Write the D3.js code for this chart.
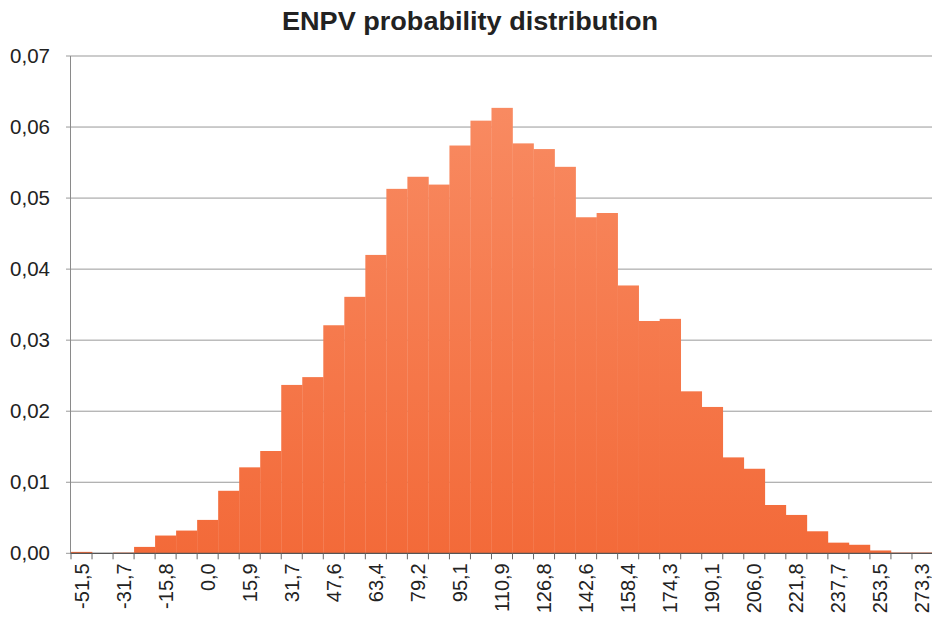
<!DOCTYPE html>
<html>
<head>
<meta charset="utf-8">
<script src="https://cdn.jsdelivr.net/npm/d3@7"></script>
<style>
  html, body { margin: 0; padding: 0; background: #fff; }
  svg { display: block; }
  text { font-family: "Liberation Sans", Arial, sans-serif; }
</style>
</head>
<body>
<script>
// ---- data ----
const title = "ENPV probability  distribution";
const values = [
  0.0002, 0.0000, 0.0001, 0.0009, 0.0025, 0.0032, 0.0047, 0.0088, 0.0121, 0.0144,
  0.0237, 0.0248, 0.0321, 0.0361, 0.0420, 0.0513, 0.0530, 0.0519, 0.0574, 0.0609,
  0.0627, 0.0577, 0.0569, 0.0544, 0.0473, 0.0479, 0.0377, 0.0327, 0.0330, 0.0228,
  0.0206, 0.0135, 0.0119, 0.0068, 0.0054, 0.0031, 0.0015, 0.0012, 0.0004, 0.0001,
  0.0001
];
const tickLabels = ["-51,5", "-31,7", "-15,8", "0,0", "15,9", "31,7", "47,6", "63,4", "79,2", "95,1",
  "110,9", "126,8", "142,6", "158,4", "174,3", "190,1", "206,0", "221,8", "237,7", "253,5", "273,3"];
const yTicks = [0, 0.01, 0.02, 0.03, 0.04, 0.05, 0.06, 0.07];

// ---- layout ----
const W = 932, H = 622;
const mLeft = 71, mRight = 933, mTop = 56, mBottom = 553.3;

const svg = d3.select("body").append("svg").attr("width", W).attr("height", H);

const defs = svg.append("defs");
const grad = defs.append("linearGradient").attr("id", "barGrad")
  .attr("gradientUnits", "userSpaceOnUse")
  .attr("x1", 0).attr("y1", mTop).attr("x2", 0).attr("y2", mBottom);
grad.append("stop").attr("offset", "0%").attr("stop-color", "#F98E66");
grad.append("stop").attr("offset", "100%").attr("stop-color", "#F36A39");

const x = d3.scaleBand().domain(d3.range(values.length)).range([mLeft, mRight]).padding(0);
const y = d3.scaleLinear().domain([0, 0.07]).range([mBottom, mTop]);

// gridlines
svg.append("g").selectAll("line").data(yTicks).join("line")
  .attr("x1", mLeft - 5).attr("x2", W)
  .attr("y1", d => y(d)).attr("y2", d => y(d))
  .attr("stroke", "#999").attr("stroke-width", 1);

// y labels
svg.append("g").selectAll("text").data(yTicks).join("text")
  .attr("x", 50).attr("y", d => y(d))
  .attr("dy", "0.35em")
  .attr("text-anchor", "end")
  .attr("font-size", 20.5)
  .attr("fill", "#222")
  .text(d => d3.format(".2f")(d).replace(".", ","));

// bars
svg.append("g").selectAll("rect").data(values).join("rect")
  .attr("x", (d, i) => x(i))
  .attr("y", d => y(d))
  .attr("width", x.bandwidth() + 0.3)
  .attr("height", d => mBottom - y(d))
  .attr("fill", "url(#barGrad)");

// y axis line
svg.append("line")
  .attr("x1", mLeft - 0.5).attr("x2", mLeft - 0.5)
  .attr("y1", mTop).attr("y2", mBottom)
  .attr("stroke", "#8a8a8a").attr("stroke-width", 1);

// x axis
const xAxis = svg.append("g").attr("transform", `translate(0,${mBottom})`);
xAxis.append("line").attr("x1", mLeft - 0.5).attr("x2", W)
  .attr("stroke", "#555").attr("stroke-width", 1.2);
// ticks at category boundaries
const bounds = d3.range(values.length + 1).map(i => mLeft + i * x.step());
xAxis.selectAll("line.tk").data(bounds).join("line").attr("class", "tk")
  .attr("x1", d => d).attr("x2", d => d)
  .attr("y1", 0).attr("y2", 6)
  .attr("stroke", "#666").attr("stroke-width", 1);

// x labels (every other category)
const labeled = d3.range(0, values.length, 2);
xAxis.selectAll("text").data(labeled).join("text")
  .attr("transform", i => `translate(${x(i) + x.bandwidth() / 2},10) rotate(-90)`)
  .attr("dy", "0.35em")
  .attr("text-anchor", "end")
  .attr("font-size", 20)
  .attr("fill", "#222")
  .text(i => tickLabels[i / 2]);

// title
svg.append("text")
  .attr("x", 470).attr("y", 30)
  .attr("text-anchor", "middle")
  .attr("font-size", 26)
  .attr("font-weight", "bold")
  .attr("fill", "#222")
  .attr("textLength", 376)
  .attr("lengthAdjust", "spacingAndGlyphs")
  .text(title);
</script>
</body>
</html>
